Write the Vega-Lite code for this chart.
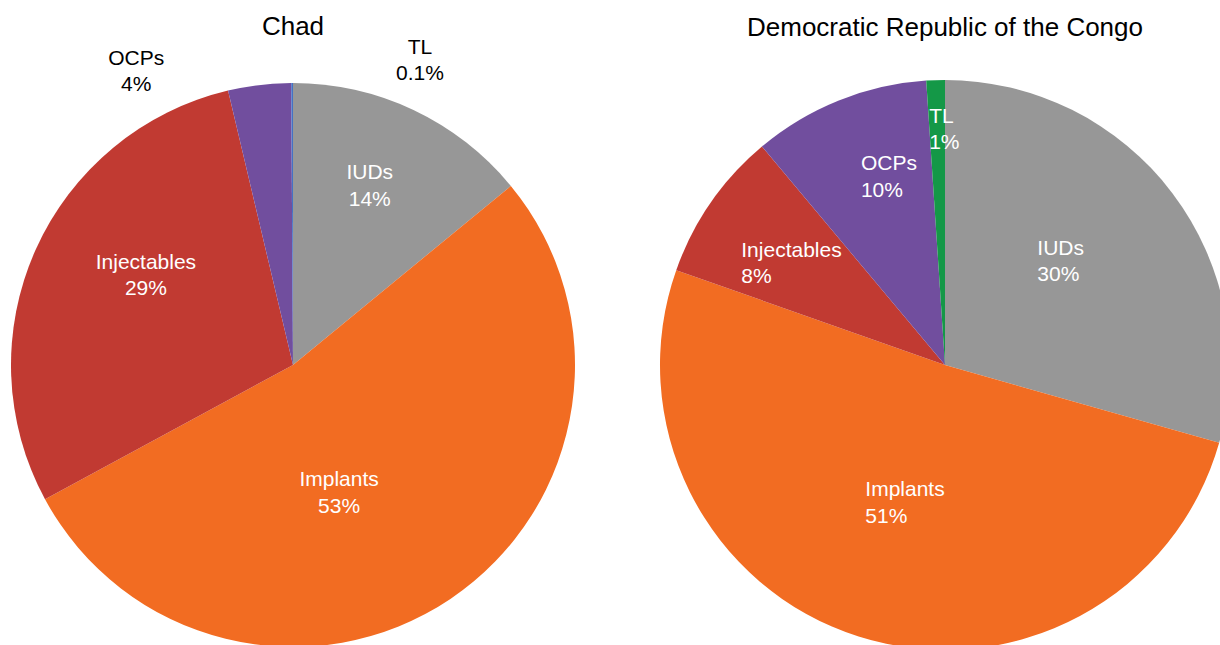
{
  "$schema": "https://vega.github.io/schema/vega-lite/v6.json",
  "padding": {"left": 8, "top": 14, "right": 0, "bottom": 0},
  "background": "white",
  "config": {
    "view": {"stroke": null},
    "title": {"font": "Liberation Sans", "fontSize": 26, "fontWeight": "normal", "color": "#000000", "anchor": "middle"},
    "text": {"font": "Liberation Sans", "fontSize": 21, "lineHeight": 26.6, "lineBreak": "\n", "baseline": "middle"}
  },
  "spacing": 82,
  "resolve": {"scale": {"color": "independent", "theta": "independent"}},
  "hconcat": [
    {
      "width": 570,
      "height": 570,
      "title": {"text": "Chad", "offset": -3.5},
      "data": {"values": [
        {"method": "IUDs", "value": 14.05, "rank": 1, "label": "IUDs\n14%"},
        {"method": "Implants", "value": 53.05, "rank": 2, "label": "Implants\n53%"},
        {"method": "Injectables", "value": 29.2, "rank": 3, "label": "Injectables\n29%"},
        {"method": "OCPs", "value": 3.6, "rank": 4, "label": "OCPs\n4%"},
        {"method": "TL", "value": 0.1, "rank": 5, "label": "TL\n0.1%"}
      ]},
      "encoding": {
        "theta": {"field": "value", "type": "quantitative", "stack": true},
        "order": {"field": "rank", "type": "quantitative"}
      },
      "layer": [
        {"mark": {"type": "arc", "outerRadius": 282},
         "encoding": {"color": {"field": "method", "type": "nominal", "legend": null,
           "scale": {"domain": ["IUDs", "Implants", "Injectables", "OCPs", "TL"],
                     "range": ["#979797", "#F26C22", "#C13A32", "#714E9E", "#4472C4"]}}}},
        {"mark": {"type": "text", "radius": 196, "dx": -7, "dy": -14.5, "align": "center", "color": "white", "clip": true},
         "encoding": {"text": {"condition": {"test": "datum.method === 'IUDs'", "field": "label"}, "value": ""}}},
        {"mark": {"type": "text", "radius": 131, "dx": -27, "dy": 6.5, "align": "center", "color": "white", "clip": true},
         "encoding": {"text": {"condition": {"test": "datum.method === 'Implants'", "field": "label"}, "value": ""}}},
        {"mark": {"type": "text", "radius": 171, "dx": 9, "dy": -32.5, "align": "center", "color": "white", "clip": true},
         "encoding": {"text": {"condition": {"test": "datum.method === 'Injectables'", "field": "label"}, "value": ""}}},
        {"transform": [
           {"stack": "value", "groupby": [], "sort": [{"field": "rank"}], "as": ["v0", "v1"]},
           {"filter": "datum.method === 'OCPs'"}],
         "mark": {"type": "text", "radius": 295, "dx": -155, "dy": -11.5, "align": "center", "color": "black"},
         "encoding": {"theta": {"field": "v1", "type": "quantitative", "stack": null}, "text": {"field": "label"}}},
        {"transform": [
           {"stack": "value", "groupby": [], "sort": [{"field": "rank"}], "as": ["v0", "v1"]},
           {"filter": "datum.method === 'TL'"}],
         "mark": {"type": "text", "radius": 306, "dx": 127, "dy": -11.5, "align": "center", "color": "black"},
         "encoding": {"theta": {"field": "v1", "type": "quantitative", "stack": null}, "text": {"field": "label"}}}
      ]
    },
    {
      "width": 570,
      "height": 570,
      "title": {"text": "Democratic Republic of the Congo", "offset": 39.5},
      "data": {"values": [
        {"method": "IUDs", "value": 29.4, "rank": 1, "label": "IUDs\n30%"},
        {"method": "Implants", "value": 51.0, "rank": 2, "label": "Implants\n51%"},
        {"method": "Injectables", "value": 8.5, "rank": 3, "label": "Injectables\n8%"},
        {"method": "OCPs", "value": 10.05, "rank": 4, "label": "OCPs\n10%"},
        {"method": "TL", "value": 1.05, "rank": 5, "label": "TL\n1%"}
      ]},
      "encoding": {
        "theta": {"field": "value", "type": "quantitative", "stack": true},
        "order": {"field": "rank", "type": "quantitative"}
      },
      "layer": [
        {"mark": {"type": "arc", "outerRadius": 285},
         "encoding": {"color": {"field": "method", "type": "nominal", "legend": null,
           "scale": {"domain": ["IUDs", "Implants", "Injectables", "OCPs", "TL"],
                     "range": ["#979797", "#F26C22", "#C13A32", "#714E9E", "#149847"]}}}},
        {"mark": {"type": "text", "radius": 137, "dx": -17, "dy": -33.5, "align": "left", "color": "white", "clip": true},
         "encoding": {"text": {"condition": {"test": "datum.method === 'IUDs'", "field": "label"}, "value": ""}}},
        {"mark": {"type": "text", "radius": 154, "dx": -33, "dy": -21.5, "align": "left", "color": "white", "clip": true},
         "encoding": {"text": {"condition": {"test": "datum.method === 'Implants'", "field": "label"}, "value": ""}}},
        {"mark": {"type": "text", "radius": 226, "dx": -18, "dy": 14.5, "align": "left", "color": "white", "clip": true},
         "encoding": {"text": {"condition": {"test": "datum.method === 'Injectables'", "field": "label"}, "value": ""}}},
        {"mark": {"type": "text", "radius": 207, "dx": -7, "dy": -8.5, "align": "left", "color": "white", "clip": true},
         "encoding": {"text": {"condition": {"test": "datum.method === 'OCPs'", "field": "label"}, "value": ""}}},
        {"mark": {"type": "text", "radius": 237, "dx": -8, "dy": -11.5, "align": "left", "color": "white", "clip": true},
         "encoding": {"text": {"condition": {"test": "datum.method === 'TL'", "field": "label"}, "value": ""}}}
      ]
    }
  ]
}
